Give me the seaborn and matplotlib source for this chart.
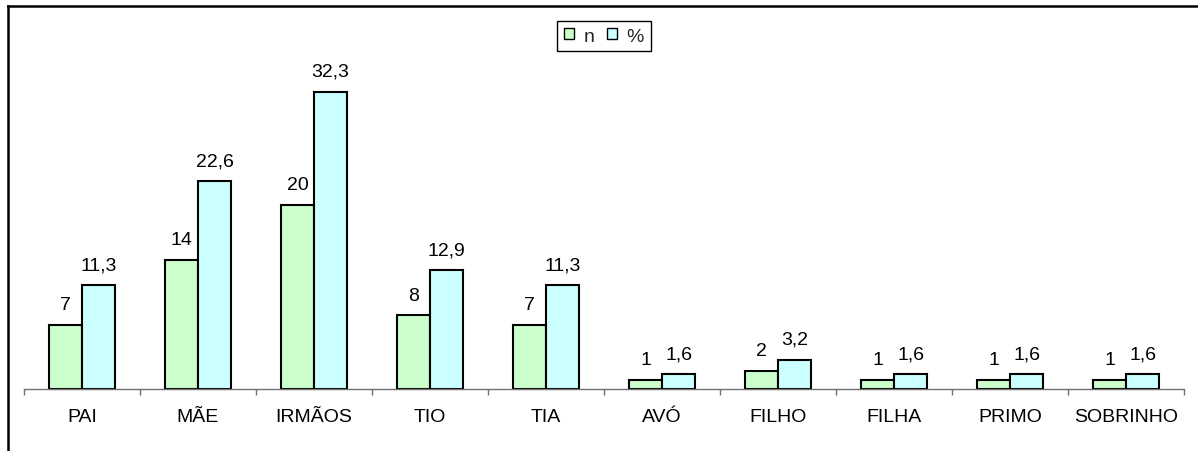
import matplotlib
matplotlib.use("Agg")
import matplotlib.pyplot as plt
from matplotlib.patches import Patch
from matplotlib.lines import Line2D
from matplotlib.ticker import FixedLocator
import seaborn as sns
import pandas as pd

categories = ["PAI", "MÃE", "IRMÃOS", "TIO", "TIA", "AVÓ", "FILHO", "FILHA", "PRIMO", "SOBRINHO"]
n_values = [7, 14, 20, 8, 7, 1, 2, 1, 1, 1]
pct_values = [11.3, 22.6, 32.3, 12.9, 11.3, 1.6, 3.2, 1.6, 1.6, 1.6]
series = ["n", "%"]
colors = ["#CCFFCC", "#CCFFFF"]

df = pd.DataFrame({
    "categoria": categories * 2,
    "valor": n_values + pct_values,
    "serie": [series[0]] * len(categories) + [series[1]] * len(categories),
})

sns.set_theme(style="white")
plt.rcParams["font.family"] = ["Liberation Sans", "DejaVu Sans"]

W, H = 1198, 452
fig = plt.figure(figsize=(W / 100, H / 100), dpi=100)
ax = fig.add_axes([24 / W, 62 / H, (1184 - 24) / W, (390 - 30) / H])

sns.barplot(data=df, x="categoria", y="valor", hue="serie", order=categories,
            hue_order=series, palette=colors, width=0.57, gap=0,
            edgecolor="black", linewidth=1.5, saturation=1, legend=False, ax=ax)

ax.set_ylim(0, 39.1)
ax.set_xlim(-0.5, len(categories) - 0.5)

# value labels above each bar, using decimal commas
for container, vals in zip(ax.containers, [n_values, pct_values]):
    for bar, v in zip(container, vals):
        txt = f"{v:g}".replace(".", ",")
        ax.annotate(txt, (bar.get_x() + bar.get_width() / 2, bar.get_height()),
                    xytext=(0, 8.5), textcoords="offset points",
                    ha="center", va="bottom", fontsize=14, color="black")

for side in ["left", "right", "top"]:
    ax.spines[side].set_visible(False)
ax.spines["bottom"].set_color("#707070")
ax.spines["bottom"].set_linewidth(1.0)
ax.set_yticks([])
ax.set_xlabel("")
ax.set_ylabel("")

ax.tick_params(axis="x", which="major", length=0, pad=13.5, labelsize=14, labelcolor="black")
ax.xaxis.set_minor_locator(FixedLocator([i - 0.5 for i in range(len(categories) + 1)]))
ax.tick_params(axis="x", which="minor", bottom=True, direction="out", length=4.5,
               width=1.0, color="#707070")

handles = [Patch(facecolor=c, edgecolor="black", linewidth=1.0) for c in colors]
fig.legend(handles, series, loc="upper center", bbox_to_anchor=(604 / W, 1 - 12 / H),
           ncol=2, frameon=True, fancybox=False, edgecolor="black", framealpha=1,
           fontsize=14, handlelength=0.5, handleheight=0.5, handletextpad=0.5,
           columnspacing=0.65, borderpad=0.35)

# outer frame: left and top edges
fig.add_artist(Line2D([7.5 / W, 7.5 / W], [0, 1 - 7 / H], color="black", linewidth=1.8,
                      transform=fig.transFigure, solid_capstyle="projecting"))
fig.add_artist(Line2D([7.5 / W, 1], [1 - 7 / H, 1 - 7 / H], color="black", linewidth=1.8,
                      transform=fig.transFigure, solid_capstyle="projecting"))

fig.savefig("out.png", dpi=100, facecolor="white")
